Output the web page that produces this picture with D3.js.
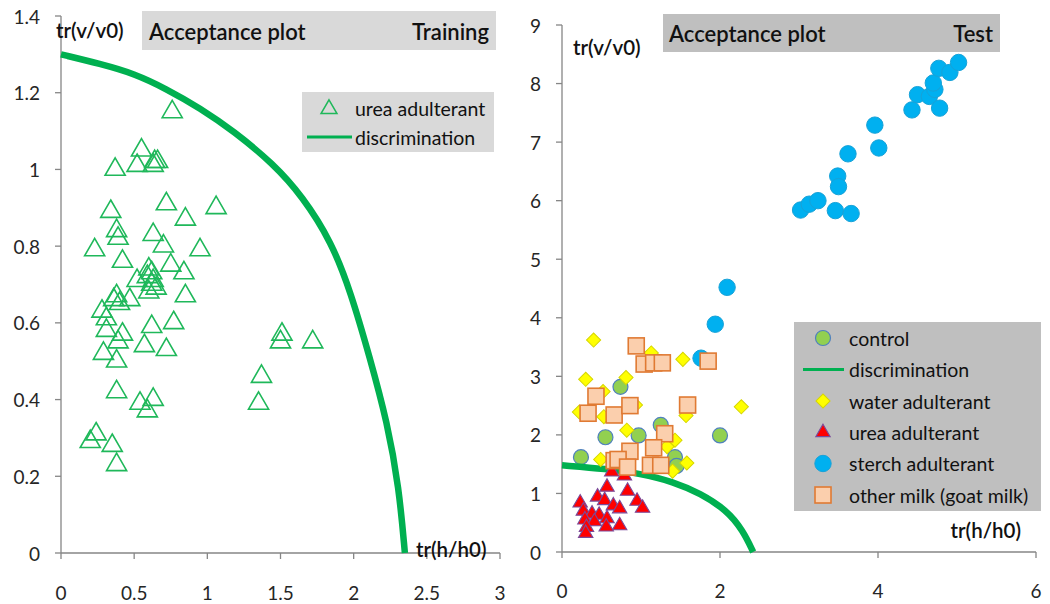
<!DOCTYPE html>
<html><head><meta charset="utf-8">
<script src="https://cdn.jsdelivr.net/npm/d3@7"></script>
<style>
html,body{margin:0;padding:0;background:#fff;}
svg text{font-family:Lato,"Open Sans",sans-serif;}
</style></head>
<body><svg id="c" width="1050" height="604"></svg>
<script>
// ---------- DATA ----------
const leftXTicks = [0, 0.5, 1, 1.5, 2, 2.5, 3];
const leftYTicks = [0, 0.2, 0.4, 0.6, 0.8, 1, 1.2, 1.4];
const rightXTicks = [0, 2, 4, 6];
const rightYTicks = [0, 1, 2, 3, 4, 5, 6, 7, 8, 9];

const trainUrea = [[0.76,1.15],[0.55,1.05],[0.37,1.00],[0.52,1.01],[0.64,1.02],[0.66,1.02],[0.63,1.01],
[0.72,0.91],[1.06,0.90],[0.34,0.89],[0.85,0.87],[0.38,0.84],[0.39,0.82],[0.63,0.83],
[0.23,0.79],[0.70,0.80],[0.95,0.79],[0.42,0.76],[0.75,0.75],[0.84,0.73],[0.60,0.74],
[0.62,0.73],[0.59,0.72],[0.63,0.71],[0.52,0.71],[0.62,0.70],[0.85,0.67],[0.47,0.66],
[0.38,0.67],[0.36,0.66],[0.40,0.65],[0.60,0.68],[0.65,0.69],[0.28,0.63],[0.31,0.61],
[0.62,0.59],[0.77,0.60],[0.42,0.57],[0.31,0.58],[0.39,0.55],[0.57,0.54],[0.72,0.53],
[0.29,0.52],[0.38,0.50],[1.51,0.57],[1.50,0.55],[1.72,0.55],[1.37,0.46],[1.35,0.39],
[0.38,0.42],[0.54,0.39],[0.63,0.40],[0.59,0.37],[0.20,0.29],[0.24,0.31],[0.35,0.28],[0.38,0.23]];

const trainDiscrimination = [[0,1.30],[0.27,1.275],[0.5,1.25],[0.72,1.21],[0.95,1.16],[1.18,1.10],[1.45,1.015],
[1.65,0.93],[1.85,0.81],[1.98,0.68],[2.11,0.51],[2.23,0.34],[2.31,0.17],[2.35,0]];

const testControl = [[0.74,2.82],[1.25,2.17],[0.55,1.96],[0.97,1.99],[2.00,1.99],[0.24,1.62],[1.43,1.62],[1.45,1.47]];
const testDiscrimination = [[0,1.48],[0.56,1.42],[0.99,1.34],[1.41,1.20],[1.75,1.00],[2.08,0.72],[2.29,0.37],[2.42,0]];
const testWater = [[0.40,3.62],[1.13,3.40],[1.53,3.29],[0.30,2.95],[0.81,2.98],[0.52,2.74],[2.27,2.48],[0.93,2.51],
[0.22,2.39],[0.53,2.31],[1.57,2.33],[0.82,2.08],[1.43,1.91],[1.33,1.80],[0.49,1.58],[1.58,1.52],[1.40,1.38]];
const testUrea = [[0.63,1.37],[0.79,1.30],[0.57,1.11],[0.83,1.04],[0.45,0.94],[0.54,0.88],[0.23,0.84],[0.95,0.87],
[1.02,0.75],[0.65,0.79],[0.73,0.74],[0.27,0.70],[0.38,0.65],[0.47,0.63],[0.57,0.57],[0.29,0.55],[0.41,0.52],
[0.73,0.45],[0.56,0.43],[0.31,0.42],[0.30,0.32]];
const testStarch = [[3.02,5.84],[3.13,5.94],[3.24,6.00],[3.46,5.83],[3.66,5.78],[3.49,6.42],[3.50,6.24],[3.62,6.80],
[3.96,7.29],[4.01,6.90],[4.43,7.55],[4.50,7.81],[4.65,7.78],[4.72,7.90],[4.70,8.01],[4.78,7.58],[4.77,8.26],
[4.91,8.19],[5.02,8.36],[2.09,4.52],[1.94,3.89],[1.76,3.31]];
const testOtherMilk = [[0.94,3.52],[1.04,3.21],[1.16,3.23],[1.27,3.23],[1.85,3.26],[0.43,2.66],[0.33,2.37],[0.66,2.34],
[0.86,2.50],[1.59,2.51],[1.30,2.02],[1.16,1.78],[0.86,1.72],[0.66,1.56],[0.71,1.58],[0.83,1.45],[1.12,1.48],[1.25,1.48]];

const leftTitle = ["Acceptance plot", "Training"];
const rightTitle = ["Acceptance plot", "Test"];
const leftLegend = ["urea adulterant", "discrimination"];
const rightLegend = ["control", "discrimination", "water adulterant", "urea adulterant", "sterch adulterant", "other milk (goat milk)"];

// ---------- DRAW ----------
const svg = d3.select("#c");
const GREEN = "#00b050";
const AX = "#868686";
const TXT = "#262626";
const DARK = "#111";

function axes(g, x, y, xt, yt, xlabDy) {
  const [x0, x1] = x.range(), [y0, y1] = y.range();
  g.append("line").attr("x1", x0).attr("x2", x1).attr("y1", y0).attr("y2", y0).attr("stroke", AX).attr("stroke-width", 1.3);
  g.append("line").attr("x1", x0).attr("x2", x0).attr("y1", y0).attr("y2", y1).attr("stroke", AX).attr("stroke-width", 1.3);
  xt.forEach(t => {
    g.append("line").attr("x1", x(t)).attr("x2", x(t)).attr("y1", y0).attr("y2", y0 + 6).attr("stroke", AX).attr("stroke-width", 1.3);
    g.append("text").attr("x", x(t)).attr("y", y0 + xlabDy).attr("text-anchor", "middle")
      .attr("dominant-baseline", "central").attr("font-size", 19).attr("fill", TXT).text(String(t));
  });
  yt.forEach(t => {
    g.append("line").attr("x1", x0 - 6).attr("x2", x0).attr("y1", y(t)).attr("y2", y(t)).attr("stroke", AX).attr("stroke-width", 1.3);
    g.append("text").attr("x", x0 - 21).attr("y", y(t)).attr("text-anchor", "end")
      .attr("dominant-baseline", "central").attr("font-size", 19).attr("fill", TXT).text(String(t));
  });
}
function label(g, x, y, s, size, weight, anchor) {
  return g.append("text").attr("x", x).attr("y", y).attr("dominant-baseline", "central")
    .attr("text-anchor", anchor || "start").attr("font-size", size).attr("font-weight", weight || 400)
    .attr("fill", DARK).text(s);
}

// ===== LEFT PANEL =====
const xL = d3.scaleLinear().domain([0, 3]).range([61, 500]);
const yL = d3.scaleLinear().domain([0, 1.4]).range([553, 16]);
const gL = svg.append("g");
axes(gL, xL, yL, leftXTicks, leftYTicks, 39);

gL.append("rect").attr("x", 142).attr("y", 11).attr("width", 354).attr("height", 39).attr("fill", "#d9d9d9");
label(gL, 149, 31, leftTitle[0], 22, 600);
label(gL, 489, 31, leftTitle[1], 22, 600, "end");
label(gL, 56, 30, "tr(v/v0)", 20.5, 600);
label(gL, 416, 549, "tr(h/h0)", 20.5, 600);

const triL = d3.symbol(d3.symbolTriangle, 175);
gL.selectAll("path.tl").data(trainUrea).join("path").attr("class", "tl")
  .attr("d", triL).attr("transform", d => `translate(${xL(d[0])},${yL(d[1])})`)
  .attr("fill", "none").attr("stroke", "#1fb85a").attr("stroke-width", 1.6);

const lineL = d3.line().x(d => xL(d[0])).y(d => yL(d[1])).curve(d3.curveBasis);
gL.append("path").attr("d", lineL(trainDiscrimination)).attr("fill", "none").attr("stroke", GREEN).attr("stroke-width", 6.5);

// left legend
gL.append("rect").attr("x", 302).attr("y", 92).attr("width", 192).attr("height", 60).attr("fill", "#d9d9d9");
gL.append("path").attr("d", d3.symbol(d3.symbolTriangle, 110)).attr("transform", "translate(329,109)")
  .attr("fill", "none").attr("stroke", "#1fb85a").attr("stroke-width", 1.5);
gL.append("line").attr("x1", 307).attr("x2", 352).attr("y1", 137).attr("y2", 137).attr("stroke", GREEN).attr("stroke-width", 3);
label(gL, 355, 108, leftLegend[0], 19.5);
label(gL, 355, 137, leftLegend[1], 19.5);

// ===== RIGHT PANEL =====
const xR = d3.scaleLinear().domain([0, 6]).range([562, 1036]);
const yR = d3.scaleLinear().domain([0, 9]).range([552, 25]);
const gR = svg.append("g");
axes(gR, xR, yR, rightXTicks, rightYTicks, 38);

gR.append("rect").attr("x", 663).attr("y", 14).attr("width", 337).attr("height", 38).attr("fill", "#bfbfbf");
label(gR, 669, 33, rightTitle[0], 22, 600);
label(gR, 993, 33, rightTitle[1], 22, 600, "end");
label(gR, 573, 47, "tr(v/v0)", 20.5, 600);
label(gR, 1021, 530, "tr(h/h0)", 20.5, 600, "end");

const pos = d => `translate(${xR(d[0])},${yR(d[1])})`;
const mk = {
  control: g => g.append("circle").attr("r", 7.5).attr("fill", "#92d050").attr("stroke", "#4f81bd").attr("stroke-width", 1.2),
  water: g => g.append("path").attr("d", d3.symbol(d3.symbolSquare, 100)()).attr("transform", "rotate(45)").attr("fill", "#ffff00").attr("stroke", "#d6d600").attr("stroke-width", 1),
  urea: g => g.append("path").attr("d", d3.symbol(d3.symbolTriangle, 90)()).attr("fill", "#ff0000").attr("stroke", "#7a4a9a").attr("stroke-width", 1.1),
  starch: g => g.append("circle").attr("r", 8.2).attr("fill", "#00b0f0").attr("stroke", "#17a2d8").attr("stroke-width", 1),
  other: g => g.append("rect").attr("x", -8).attr("y", -8).attr("width", 16).attr("height", 16).attr("fill", "#fbcfad").attr("stroke", "#e07a33").attr("stroke-width", 1.6)
};
function series(data, key) {
  gR.selectAll("g.s-" + key).data(data).join("g").attr("class", "s-" + key).attr("transform", pos)
    .each(function () { mk[key](d3.select(this)); });
}
series(testControl, "control");
const lineR = d3.line().x(d => xR(d[0])).y(d => yR(d[1])).curve(d3.curveBasis);
gR.append("path").attr("d", lineR(testDiscrimination)).attr("fill", "none").attr("stroke", GREEN).attr("stroke-width", 6.5);
series(testWater, "water");
series(testUrea, "urea");
series(testStarch, "starch");
series(testOtherMilk, "other");

// right legend
gR.append("rect").attr("x", 794).attr("y", 322).attr("width", 247).attr("height", 189).attr("fill", "#bfbfbf");
const legY = [338, 369.5, 401, 432.5, 463.5, 495];
const legKeys = ["control", "line", "water", "urea", "starch", "other"];
legKeys.forEach((k, i) => {
  const g = gR.append("g").attr("transform", `translate(823,${legY[i]})`);
  if (k === "line") g.append("line").attr("x1", -20).attr("x2", 21).attr("stroke", GREEN).attr("stroke-width", 3);
  else mk[k](g);
  label(gR, 849, legY[i], rightLegend[i], 19.5);
});
</script></body></html>
